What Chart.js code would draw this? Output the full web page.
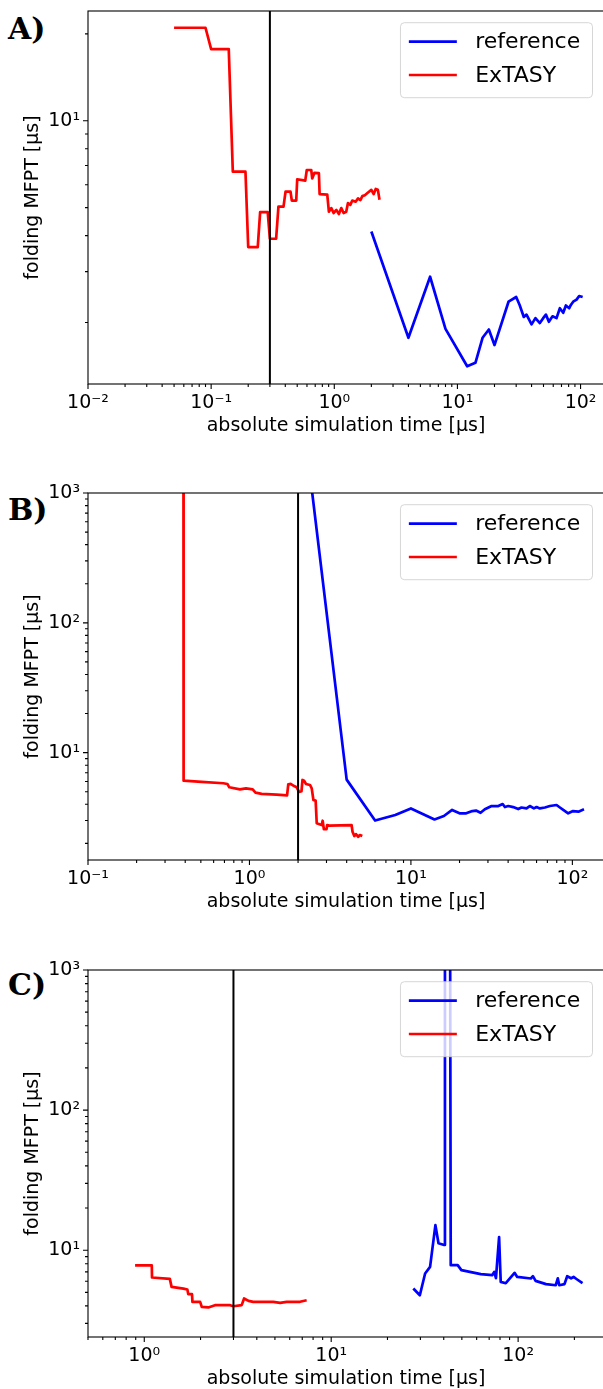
<!DOCTYPE html>
<html>
<head>
<meta charset="utf-8">
<script src="https://cdn.jsdelivr.net/npm/chart.js@4.4.1/dist/chart.umd.min.js"></script>
<style>
  html, body { margin: 0; padding: 0; background: #fff; width: 603px; height: 1389px; overflow: hidden; position: relative; }
  .panel { position: absolute; left: 0; width: 610px; }
  .tag { position: absolute; left: 8px; font: bold 30px 'DejaVu Serif', serif; line-height: 30px; color: #000; }
</style>
</head>
<body>
<div class="tag" style="top:14px">A)</div>
<div class="tag" style="top:495px">B)</div>
<div class="tag" style="top:970px">C)</div>
<div class="panel" style="top:0;height:450px"><canvas id="chartA"></canvas></div>
<div class="panel" style="top:480px;height:445px"><canvas id="chartB"></canvas></div>
<div class="panel" style="top:955px;height:447px"><canvas id="chartC"></canvas></div>
<script>
// ---- panel A ----
var aRefX = [2, 4, 6, 8, 12, 14, 16, 18, 20, 26, 30, 32, 34.6, 36.4, 40, 43, 46.7, 49.7, 52.3, 55.3, 59.2, 63.8, 67.9, 72.3, 76, 80.9, 83.4, 87.1, 92.8, 97.4, 104];
var aRefY = [4.13, 1.77, 2.88, 1.90, 1.41, 1.45, 1.77, 1.89, 1.67, 2.36, 2.45, 2.30, 2.09, 2.13, 1.97, 2.07, 1.99, 2.07, 2.13, 2.01, 2.10, 2.07, 2.24, 2.16, 2.29, 2.24, 2.30, 2.36, 2.40, 2.47, 2.45];
var aExtX = [0.05, 0.09, 0.1, 0.139, 0.15, 0.19, 0.2, 0.239, 0.25, 0.288, 0.3, 0.337, 0.352, 0.387, 0.402, 0.441, 0.452, 0.491, 0.5, 0.581, 0.598, 0.65, 0.662, 0.69, 0.75, 0.76, 0.877, 0.904, 0.946, 0.987, 1.04, 1.09, 1.14, 1.19, 1.25, 1.29, 1.35, 1.40, 1.49, 1.56, 1.63, 1.69, 1.77, 1.88, 2.0, 2.09, 2.17, 2.26, 2.33];
var aExtY = [21, 21, 17.7, 17.7, 6.66, 6.66, 3.65, 3.65, 4.82, 4.82, 3.9, 3.9, 5.04, 5.04, 5.68, 5.68, 5.29, 5.29, 6.27, 6.2, 6.75, 6.75, 6.31, 6.6, 6.58, 5.57, 5.55, 4.84, 4.98, 4.79, 4.91, 4.75, 4.98, 4.79, 4.84, 5.18, 5.11, 5.29, 5.24, 5.38, 5.31, 5.48, 5.52, 5.64, 5.76, 5.57, 5.8, 5.76, 5.32];
var aMarker = 0.3;

// ---- panel B ----
var bRefX = [2, 4, 6, 8, 10, 14, 16, 18, 20, 22, 24, 25.3, 27, 28.7, 31.6, 34.8, 37, 38.2, 40.1, 43, 46.2, 48.4, 52, 54.5, 57.8, 60, 62.9, 67.6, 72.6, 79.8, 83.7, 87.8, 94.2, 101, 109, 118];
var bRefY = [8100, 6.2, 3.0, 3.31, 3.72, 3.06, 3.25, 3.62, 3.41, 3.41, 3.55, 3.58, 3.44, 3.66, 3.88, 3.88, 4.02, 3.81, 3.88, 3.81, 3.68, 3.78, 3.72, 3.88, 3.72, 3.81, 3.72, 3.78, 3.88, 3.95, 3.78, 3.62, 3.41, 3.55, 3.51, 3.66];
var bExtX = [0.39, 0.391, 0.506, 0.689, 0.73, 0.75, 0.873, 0.951, 1.047, 1.09, 1.19, 1.47, 1.71, 1.74, 1.80, 1.89, 1.96, 2.03, 2.10, 2.13, 2.18, 2.24, 2.37, 2.43, 2.49, 2.57, 2.61, 2.80, 2.84, 2.89, 3.0, 3.03, 3.12, 4.29, 4.35, 4.46, 4.57, 4.72, 4.83, 5.0];
var bExtY = [5000, 6.08, 5.95, 5.81, 5.74, 5.41, 5.22, 5.31, 5.22, 4.92, 4.81, 4.75, 4.69, 5.71, 5.74, 5.53, 5.41, 4.98, 5.04, 6.16, 6.08, 5.74, 5.64, 5.31, 4.32, 4.27, 2.86, 2.77, 2.99, 2.57, 2.57, 2.77, 2.74, 2.77, 2.46, 2.28, 2.36, 2.25, 2.32, 2.28];
var bMarker = 2;

// ---- panel C ----
var cRefX = [27.5, 29.8, 31.8, 33.8, 36.1, 37.5, 40.2, 40.6, 43.2, 43.6, 47.5, 49.7, 63.1, 72.6, 74.5, 76.1, 79.1, 80.7, 85.9, 95.7, 98.9, 117, 120, 124, 141, 159, 163, 166, 177, 183, 192, 198, 206, 221];
var cRefY = [5.33, 4.77, 6.82, 7.6, 15.1, 11.2, 10.9, 5000, 5000, 7.82, 7.82, 7.2, 6.74, 6.63, 7.0, 6.31, 12.4, 5.94, 5.81, 6.89, 6.44, 6.28, 6.52, 6.04, 5.72, 5.62, 6.3, 5.62, 5.72, 6.52, 6.3, 6.44, 6.2, 5.81];
var cExtX = [0.893, 1.097, 1.10, 1.37, 1.40, 1.62, 1.70, 1.72, 1.80, 1.81, 1.99, 2.03, 2.20, 2.39, 2.88, 3.0, 3.32, 3.42, 3.61, 3.83, 4.90, 5.33, 5.78, 6.81, 7.39];
var cExtY = [7.78, 7.78, 6.38, 6.24, 5.47, 5.32, 5.24, 4.85, 4.85, 4.28, 4.28, 3.94, 3.90, 4.05, 4.05, 3.98, 4.05, 4.52, 4.35, 4.28, 4.28, 4.21, 4.28, 4.28, 4.39];
var cMarker = 3;

var seriesLabels = ['reference', 'ExTASY'];
var seriesColors = ['#0000ff', '#ff0000'];
var xTitle = 'absolute simulation time [μs]';
var yTitle = 'folding MFPT [μs]';

Chart.defaults.font.family = "'DejaVu Sans', sans-serif";
Chart.defaults.color = '#000';

var SUP = {'-': '⁻', '0': '⁰', '1': '¹', '2': '²', '3': '³', '4': '⁴', '5': '⁵', '6': '⁶', '7': '⁷', '8': '⁸', '9': '⁹'};
function powLabel(v) {
  var e = String(Math.round(Math.log10(v)));
  return '10' + e.split('').map(function (c) { return SUP[c]; }).join('');
}

// matplotlib-like log ticks: 1..9 per decade, decades are major
function logTicks(min, max) {
  var out = [];
  for (var k = Math.floor(Math.log10(min)); k <= Math.ceil(Math.log10(max)); k++) {
    for (var m = 1; m < 10; m++) {
      var v = m * Math.pow(10, k);
      if (v >= min * 0.9999 && v <= max * 1.0001) out.push({value: v, major: m === 1});
    }
  }
  return out;
}

function tickLabel(value, index, ticks) {
  return ticks[index].major ? powLabel(value) : '';
}

function pts(xs, ys) {
  return xs.map(function (x, i) { return {x: x, y: ys[i]}; });
}

// spines, tick marks and a matplotlib style legend box
var axesDeco = {
  id: 'axesDeco',
  afterDatasetsDraw: function (chart) {
    var ctx = chart.ctx, a = chart.chartArea, x = chart.scales.x, y = chart.scales.y;
    ctx.save();
    ctx.strokeStyle = '#000';
    ctx.lineWidth = 1.1;
    ctx.beginPath();
    x.ticks.forEach(function (t) {
      var px = x.getPixelForValue(t.value);
      ctx.moveTo(px, a.bottom);
      ctx.lineTo(px, a.bottom + (t.major ? 5 : 3));
    });
    y.ticks.forEach(function (t) {
      var py = y.getPixelForValue(t.value);
      ctx.moveTo(a.left, py);
      ctx.lineTo(a.left - (t.major ? 5 : 3), py);
    });
    ctx.stroke();
    ctx.strokeRect(a.left, a.top, a.right - a.left, a.bottom - a.top);

    // legend
    ctx.font = "22px 'DejaVu Sans', sans-serif";
    var items = chart.data.datasets.filter(function (d) { return d.label; });
    var textW = Math.max.apply(null, items.map(function (d) { return ctx.measureText(d.label).width; }));
    var w = 74.7 + textW + 12.3, h = 75;
    var bx = a.right - 11.5 - w, by = a.top + 11.7;
    ctx.beginPath();
    ctx.roundRect(bx, by, w, h, 4);
    ctx.fillStyle = 'rgba(255,255,255,0.8)';
    ctx.fill();
    ctx.strokeStyle = 'rgba(204,204,204,0.8)';
    ctx.lineWidth = 1;
    ctx.stroke();
    items.forEach(function (d, i) {
      var ly = by + 19 + i * 33.3;
      ctx.beginPath();
      ctx.strokeStyle = d.borderColor;
      ctx.lineWidth = 2.7;
      ctx.moveTo(bx + 8.4, ly);
      ctx.lineTo(bx + 56.4, ly);
      ctx.stroke();
      ctx.fillStyle = '#000';
      ctx.textBaseline = 'middle';
      ctx.textAlign = 'left';
      ctx.fillText(d.label, bx + 74.7, ly + 1);
    });
    ctx.restore();
  }
};

function makePanel(id, p) {
  return new Chart(document.getElementById(id), {
    type: 'line',
    data: {
      datasets: [
        {label: seriesLabels[0], data: pts(p.refX, p.refY), borderColor: seriesColors[0], borderWidth: 2.7, order: 2},
        {label: seriesLabels[1], data: pts(p.extX, p.extY), borderColor: seriesColors[1], borderWidth: 2.7, order: 1},
        {label: '', data: [{x: p.mark, y: p.yMin}, {x: p.mark, y: p.yMax}], borderColor: '#000', borderWidth: 2, order: 0}
      ]
    },
    options: {
      responsive: true,
      maintainAspectRatio: false,
      animation: false,
      layout: {padding: {top: p.padTop, right: 6, bottom: p.padBottom, left: 0}},
      plugins: {legend: {display: false}, tooltip: {enabled: false}},
      elements: {
        line: {tension: 0, fill: false, borderJoinStyle: 'round'},
        point: {radius: 0, hoverRadius: 0}
      },
      scales: {
        x: {
          type: 'logarithmic',
          min: p.xMin,
          max: p.xMax,
          grid: {display: false, drawTicks: false},
          border: {display: false},
          ticks: {autoSkip: false, maxRotation: 0, minRotation: 0, padding: 8, font: {size: 19}, callback: tickLabel},
          title: {display: true, text: xTitle, font: {size: 19}, padding: {top: 0, bottom: 2}},
          afterBuildTicks: function (s) { s.ticks = logTicks(s.min, s.max); },
          afterFit: function (s) { s.height = 55; s.paddingLeft = 0; s.paddingRight = 0; }
        },
        y: {
          type: 'logarithmic',
          min: p.yMin,
          max: p.yMax,
          grid: {display: false, drawTicks: false},
          border: {display: false},
          ticks: {autoSkip: false, padding: 8, font: {size: 19}, callback: tickLabel},
          title: {display: true, text: yTitle, font: {size: 19}, padding: {top: 22, bottom: 0}},
          afterBuildTicks: function (s) { s.ticks = logTicks(s.min, s.max); },
          afterFit: function (s) { s.width = 88; s.paddingTop = 0; s.paddingBottom = 0; }
        }
      }
    },
    plugins: [axesDeco]
  });
}

makePanel('chartA', {refX: aRefX, refY: aRefY, extX: aExtX, extY: aExtY, mark: aMarker,
  xMin: 0.01, xMax: 155, yMin: 1.224, yMax: 24.0, padTop: 11, padBottom: 11});
makePanel('chartB', {refX: bRefX, refY: bRefY, extX: bExtX, extY: bExtY, mark: bMarker,
  xMin: 0.1, xMax: 157, yMin: 1.49, yMax: 1000, padTop: 13, padBottom: 10});
makePanel('chartC', {refX: cRefX, refY: cRefY, extX: cExtX, extY: cExtY, mark: cMarker,
  xMin: 0.5, xMax: 288, yMin: 2.4, yMax: 1000, padTop: 15, padBottom: 10});
</script>
</body>
</html>
